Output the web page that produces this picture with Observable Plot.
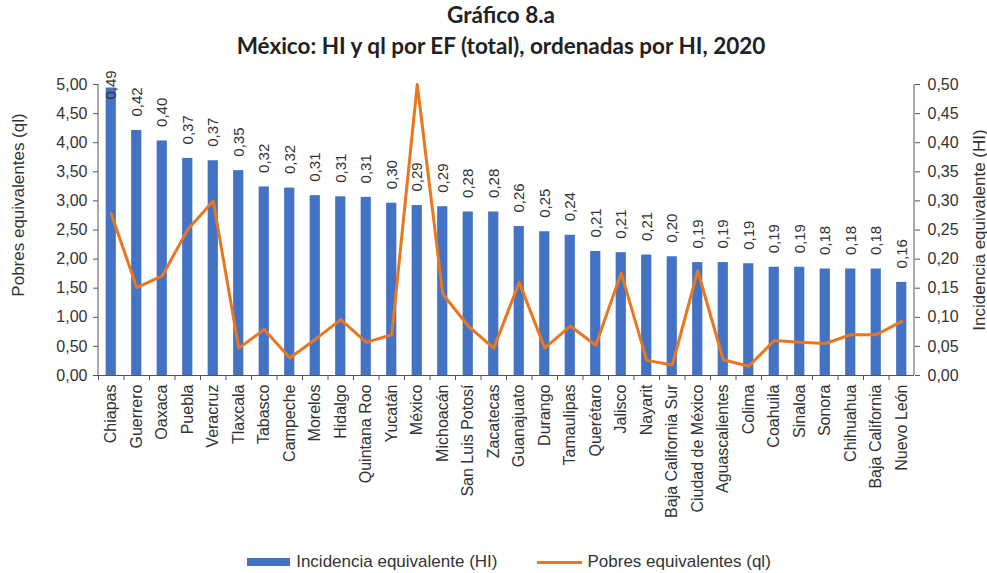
<!DOCTYPE html>
<html>
<head>
<meta charset="utf-8">
<script src="https://cdn.jsdelivr.net/npm/d3@7"></script>
<script src="https://cdn.jsdelivr.net/npm/@observablehq/plot@0.6"></script>
<style>
  html, body { margin: 0; padding: 0; background: #fff; }
  body { width: 987px; height: 573px; overflow: hidden; font-family: "Liberation Sans", Arial, sans-serif; }
  #title { height: 62px; text-align: center; font-family: Lato, "Open Sans", sans-serif; font-weight: bold; font-size: 22.5px; color: #222; padding-left: 15px; box-sizing: border-box; margin-top: -1px; }
  #title div { line-height: 31px; }
  #legend { display: flex; justify-content: center; align-items: center; height: 22px; margin-top: 10px; padding-left: 31px; font-size: 17px; color: #333; }
  #legend .sw-bar { width: 43px; height: 8px; background: #4472C4; margin-right: 6px; }
  #legend .sw-line { width: 45px; height: 3px; background: #E8771F; margin-left: 40px; margin-right: 5px; }
</style>
</head>
<body>
<div id="title"><div>Gráfico 8.a</div><div>México: HI y ql por EF (total), ordenadas por HI, 2020</div></div>
<div id="chart"></div>
<div id="legend"><span class="sw-bar"></span><span>Incidencia equivalente (HI)</span><span class="sw-line"></span><span>Pobres equivalentes (ql)</span></div>
<script>
const states = ["Chiapas","Guerrero","Oaxaca","Puebla","Veracruz","Tlaxcala","Tabasco","Campeche","Morelos","Hidalgo","Quintana Roo","Yucatán","México","Michoacán","San Luis Potosí","Zacatecas","Guanajuato","Durango","Tamaulipas","Querétaro","Jalisco","Nayarit","Baja California Sur","Ciudad de México","Aguascalientes","Colima","Coahuila","Sinaloa","Sonora","Chihuahua","Baja California","Nuevo León"];
const hi = [0.494,0.421,0.403,0.373,0.369,0.352,0.324,0.322,0.309,0.307,0.306,0.296,0.292,0.290,0.281,0.281,0.256,0.247,0.241,0.213,0.211,0.207,0.204,0.194,0.194,0.192,0.186,0.186,0.183,0.183,0.183,0.160];
const ql = [2.78,1.51,1.71,2.51,3.00,0.47,0.79,0.30,0.62,0.96,0.57,0.70,5.00,1.40,0.85,0.47,1.60,0.47,0.85,0.52,1.76,0.26,0.18,1.80,0.27,0.16,0.60,0.57,0.55,0.70,0.70,0.93];
const leftTicks = [0,0.5,1,1.5,2,2.5,3,3.5,4,4.5,5];
const rightTicks = [0,0.05,0.10,0.15,0.20,0.25,0.30,0.35,0.40,0.45,0.50];
const leftTitle = "Pobres equivalentes (ql)";
const rightTitle = "Incidencia equivalente (HI)";

const data = states.map((s, i) => ({state: s, hi: hi[i], ql: ql[i]}));
const fmt = v => v.toFixed(2).replace(".", ",");
const scaleFactor = 10; // HI axis (0–0,50) maps onto ql axis (0–5,00)

const W = 987, H = 480, mL = 98, mR = 73, mT = 23, mB = 166;
const step = (W - mL - mR) / states.length;
const font = "Liberation Sans, Arial, sans-serif";

const chart = Plot.plot({
  width: W, height: H,
  marginLeft: mL, marginRight: mR, marginTop: mT, marginBottom: mB,
  style: {fontFamily: font, color: "#333", background: "#fff", overflow: "visible"},
  x: {domain: states, paddingInner: 0.6, paddingOuter: 0.3, round: false, axis: null},
  y: {domain: [0, 5], axis: null},
  marks: [
    Plot.barY(data, {x: "state", y: d => d.hi * scaleFactor, fill: "#4472C4"}),
    Plot.text(data, {x: "state", y: d => Math.min(d.hi * scaleFactor, 4.5), text: d => fmt(d.hi), rotate: -90, textAnchor: "start", dy: -14, fontSize: 15, fill: "#333"}),
    Plot.line(data, {x: "state", y: "ql", stroke: "#E8771F", strokeWidth: 3, strokeLinejoin: "round"}),
    Plot.ruleY([0], {stroke: "#555", strokeWidth: 1}),
    Plot.axisX({tickSize: 5, text: null, dx: -step / 2, stroke: "#555", label: null}),
    Plot.axisX({tickSize: 0, tickPadding: 9, tickRotate: -90, fontSize: 16, label: null}),
    Plot.axisY(leftTicks, {anchor: "left", tickSize: 5, tickPadding: 6, tickFormat: fmt, fontSize: 16, label: null, stroke: "#555"}),
    Plot.axisY(rightTicks.map(t => t * scaleFactor), {anchor: "right", tickSize: 5, tickPadding: 8, tickFormat: d => fmt(d / scaleFactor), fontSize: 16, label: null, stroke: "#555"}),
    Plot.text([leftTitle], {frameAnchor: "left", textAnchor: "middle", rotate: -90, dx: -80, dy: -25, fontSize: 17, fill: "#333"}),
    Plot.text([rightTitle], {frameAnchor: "right", textAnchor: "middle", rotate: -90, dx: 65, fontSize: 17, fill: "#333"})
  ]
});

// vertical axis lines at the frame edges, placed from the plot's own scales
const xr = chart.scale("x").range, yr = chart.scale("y").range;
const svg = d3.select(chart);
[xr[0], xr[1]].forEach(x => {
  svg.append("line").attr("x1", x).attr("x2", x).attr("y1", yr[0]).attr("y2", yr[1])
    .attr("stroke", "#555").attr("stroke-width", 1);
});
document.getElementById("chart").appendChild(chart);
</script>
</body>
</html>
